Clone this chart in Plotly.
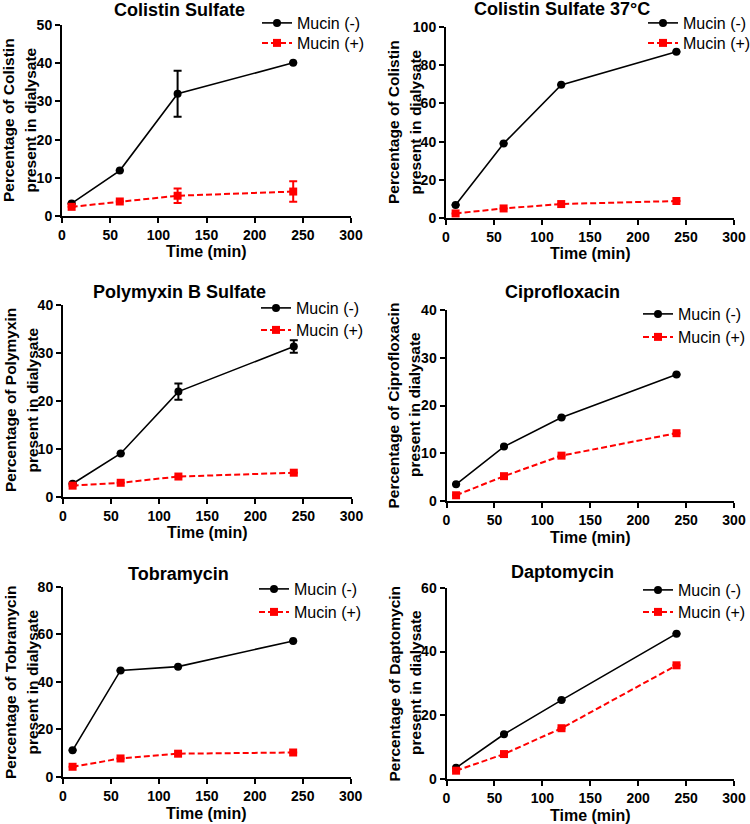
import plotly.graph_objects as go

W, H = 750, 824
FONT = "Liberation Sans"

time_min = [10, 60, 120, 240]
x_ticks = [0, 50, 100, 150, 200, 250, 300]

panel_titles = ["Colistin Sulfate", "Colistin Sulfate 37°C", "Polymyxin B Sulfate",
                "Ciprofloxacin", "Tobramycin", "Daptomycin"]
y_titles_line1 = ["Percentage of Colistin", "Percentage of Colistin",
                  "Percentage of Polymyxin", "Percentage of Ciprofloxacin",
                  "Percentage of Tobramycin", "Percentage of Daptomycin"]
y_title_line2 = "present in dialysate"
x_title = "Time (min)"
y_max = [50, 100, 40, 40, 80, 60]
y_dtick = [10, 20, 10, 10, 20, 20]
series_names = ["Mucin (-)", "Mucin (+)"]

# Mucin (-) values and SD
colistin_neg = [3.3, 11.9, 32.0, 40.1]
colistin_neg_err = [0, 0, 6.0, 0]
colistin37_neg = [6.8, 39.0, 69.7, 87.0]
colistin37_neg_err = [0, 0, 0, 0]
polymyxin_neg = [2.7, 9.0, 21.9, 31.3]
polymyxin_neg_err = [0, 0, 1.7, 1.3]
cipro_neg = [3.5, 11.4, 17.5, 26.5]
cipro_neg_err = [0, 0, 0, 0]
tobra_neg = [11.2, 44.8, 46.4, 57.2]
tobra_neg_err = [0, 0, 0, 0]
dapto_neg = [3.6, 14.1, 24.8, 45.6]
dapto_neg_err = [0, 0, 0, 0]

# Mucin (+) values and SD
colistin_pos = [2.4, 3.8, 5.3, 6.4]
colistin_pos_err = [0, 0, 1.9, 2.7]
colistin37_pos = [2.4, 5.0, 7.3, 8.9]
colistin37_pos_err = [0, 0, 0, 0]
polymyxin_pos = [2.3, 2.9, 4.2, 5.0]
polymyxin_pos_err = [0, 0, 0, 0]
cipro_pos = [1.2, 5.2, 9.5, 14.2]
cipro_pos_err = [0, 0, 0, 0]
tobra_pos = [4.3, 7.8, 9.8, 10.3]
tobra_pos_err = [0, 0, 0, 0]
dapto_pos = [2.7, 7.9, 16.0, 35.7]
dapto_pos_err = [0, 0, 0, 0]

neg_series = [colistin_neg, colistin37_neg, polymyxin_neg, cipro_neg, tobra_neg, dapto_neg]
neg_errs = [colistin_neg_err, colistin37_neg_err, polymyxin_neg_err, cipro_neg_err, tobra_neg_err, dapto_neg_err]
pos_series = [colistin_pos, colistin37_pos, polymyxin_pos, cipro_pos, tobra_pos, dapto_pos]
pos_errs = [colistin_pos_err, colistin37_pos_err, polymyxin_pos_err, cipro_pos_err, tobra_pos_err, dapto_pos_err]

# layout geometry in pixels: (left, right, top, bottom)
boxes = [(62, 351, 25, 216), (446, 734, 27, 218),
         (63, 351.5, 304.7, 496.7), (446.5, 734, 310, 501),
         (63, 350.7, 586.7, 777), (446.5, 734, 587.7, 779.3)]
title_pos = [(179, 10), (562, 9), (179, 292), (562, 292), (178, 574), (562, 572)]
ytitle_y = [120, 122, 400, 405, 682, 683]
# legend text start x, first row y, second row y
legend_pos = [(297, 23, 43), (683, 23, 43), (296, 308, 330),
              (678, 314, 337), (294, 589, 612), (678, 590, 612)]

RED = "#FF0000"

fig = go.Figure()
layout = dict(width=W, height=H, margin=dict(l=0, r=0, t=0, b=0, autoexpand=False),
              paper_bgcolor="white", plot_bgcolor="white", annotations=[],
              showlegend=True)

leg_count = 0
for i in range(6):
    n = i + 1
    xs = "" if n == 1 else str(n)
    lx, ly1, ly2 = legend_pos[i]
    legs = []
    for ly in (ly1, ly2):
        leg_count += 1
        leg = "legend" if leg_count == 1 else f"legend{leg_count}"
        legs.append(leg)
        layout[leg] = dict(x=(lx - 40) / W, y=1 - (ly - 17) / H, xanchor="left", yanchor="top",
                           xref="paper", yref="paper", bgcolor="rgba(0,0,0,0)",
                           font=dict(family=FONT, size=16, color="black"),
                           tracegroupgap=0, itemwidth=30, visible=True)
    fig.add_trace(go.Scatter(
        x=time_min, y=neg_series[i], name=series_names[0], mode="lines+markers",
        xaxis="x" + xs, yaxis="y" + xs, legend=legs[0], cliponaxis=False, showlegend=True,
        line=dict(color="black", width=1.6),
        marker=dict(symbol="circle", size=8, color="black"),
        error_y=dict(type="data", array=neg_errs[i], visible=True,
                     color="black", thickness=2, width=4)))
    fig.add_trace(go.Scatter(
        x=time_min, y=pos_series[i], name=series_names[1], mode="lines+markers",
        xaxis="x" + xs, yaxis="y" + xs, legend=legs[1], cliponaxis=False, showlegend=True,
        line=dict(color=RED, width=2, dash="6px,3px"),
        marker=dict(symbol="square", size=8, color=RED),
        error_y=dict(type="data", array=pos_errs[i], visible=True,
                     color=RED, thickness=2, width=4)))

    l, r, t, b = boxes[i]
    axis_common = dict(showline=True, linecolor="black", linewidth=2,
                       ticks="outside", ticklen=5, tickwidth=2, tickcolor="black",
                       showgrid=False, zeroline=False, fixedrange=True,
                       tickfont=dict(family=FONT, size=14, color="black", weight="bold"))
    layout["xaxis" + xs] = dict(domain=[l / W, r / W], range=[0, 300],
                                tickvals=x_ticks, anchor="y" + xs, **axis_common)
    layout["yaxis" + xs] = dict(domain=[1 - b / H, 1 - t / H], range=[0, y_max[i]],
                                dtick=y_dtick[i], tick0=0, anchor="x" + xs, **axis_common)

    tx, ty = title_pos[i]
    layout["annotations"].append(dict(
        text=panel_titles[i], x=tx / W, y=1 - ty / H, xref="paper", yref="paper",
        xanchor="center", yanchor="middle", showarrow=False,
        font=dict(family=FONT, size=18, color="black", weight="bold")))
    for txt, off in ((y_titles_line1[i], 53), (y_title_line2, 31.5)):
        layout["annotations"].append(dict(
            text=txt, x=(l - off) / W, y=1 - ytitle_y[i] / H, xref="paper", yref="paper",
            xanchor="center", yanchor="middle", showarrow=False, textangle=-90,
            font=dict(family=FONT, size=15.5, color="black", weight="bold")))
    layout["annotations"].append(dict(
        text=x_title, x=(l + r) / 2 / W, y=1 - (b + 36) / H, xref="paper", yref="paper",
        xanchor="center", yanchor="middle", showarrow=False,
        font=dict(family=FONT, size=16, color="black", weight="bold")))

fig.update_layout(**layout)
fig.write_html("out.html", config={"displayModeBar": False, "staticPlot": True},
               post_script="document.body.style.margin='0px';document.body.style.overflow='hidden';")
